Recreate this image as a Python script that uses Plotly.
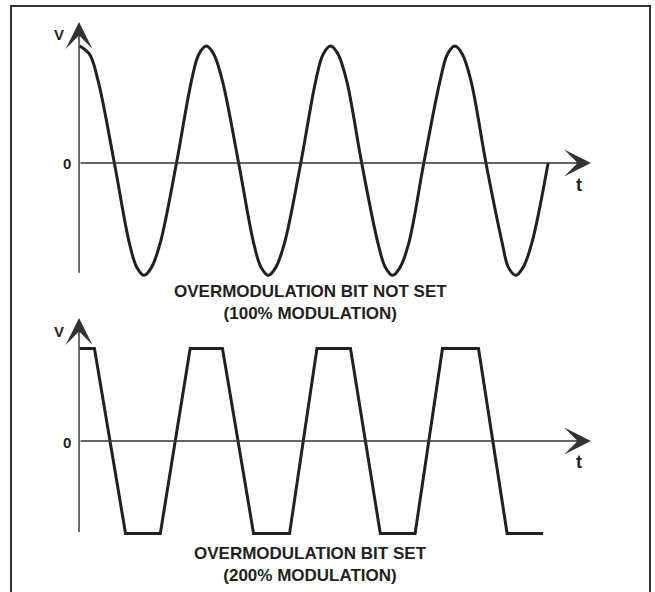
import plotly.graph_objects as go

# time in carrier periods, voltage normalised to the 100% peak
t_am = [-0.02, 0.06, 0.13, 0.26, 0.38, 0.44, 0.5, 0.56, 0.63, 0.76, 0.88, 0.94, 1.0,
        1.06, 1.13, 1.26, 1.38, 1.44, 1.5, 1.56, 1.63, 1.76, 1.88, 1.94, 2.0, 2.06,
        2.13, 2.25, 2.38, 2.44, 2.5, 2.56, 2.63, 2.75, 2.88, 2.94, 3.0, 3.06, 3.13,
        3.25, 3.38, 3.43, 3.49, 3.55, 3.62, 3.75]
v_am = [1.0, 0.93, 0.7, 0, -0.68, -0.89, -0.96, -0.89, -0.68, 0, 0.7, 0.93, 1.0,
        0.93, 0.7, 0, -0.68, -0.89, -0.96, -0.89, -0.68, 0, 0.7, 0.93, 1.0, 0.93,
        0.7, 0, -0.68, -0.89, -0.96, -0.89, -0.68, 0, 0.7, 0.93, 1.0, 0.93, 0.7,
        0, -0.68, -0.89, -0.96, -0.89, -0.68, 0]

t_om = [-0.02, 0.1, 0.35, 0.63, 0.87, 1.13, 1.38, 1.67, 1.89, 2.16, 2.4, 2.68,
        2.9, 3.19, 3.42, 3.71]
v_om = [0.79, 0.79, -0.79, -0.79, 0.79, 0.79, -0.79, -0.79, 0.79, 0.79, -0.79,
        -0.79, 0.79, 0.79, -0.79, -0.79]

captions = [["OVERMODULATION BIT NOT SET", "(100% MODULATION)"],
            ["OVERMODULATION BIT SET", "(200% MODULATION)"]]

ink = "#231f20"
axis_col = "#333333"
font = "Liberation Sans Narrow, Arial Narrow, Liberation Sans, Arial"

fig = go.Figure()
fig.add_trace(go.Scatter(x=t_am, y=v_am, mode="lines", xaxis="x", yaxis="y",
                         line=dict(color=ink, width=3, shape="spline", smoothing=1.0)))
fig.add_trace(go.Scatter(x=t_om, y=v_om, mode="lines", xaxis="x2", yaxis="y2",
                         line=dict(color=ink, width=3)))

hidden = dict(visible=False, fixedrange=True)
fig.update_layout(
    width=655, height=592,
    margin=dict(l=0, r=0, t=0, b=0),
    paper_bgcolor="white", plot_bgcolor="white",
    showlegend=False,
    xaxis=dict(range=[-0.66, 4.61], domain=[0, 1], anchor="y", **hidden),
    yaxis=dict(range=[-1.171, 1.393], domain=[0.4932, 1], anchor="x", **hidden),
    xaxis2=dict(range=[-0.66, 4.61], domain=[0, 1], anchor="y2", **hidden),
    yaxis2=dict(range=[-1.291, 1.205], domain=[0, 0.4932], anchor="x2", **hidden),
)

# outer frame
fig.add_shape(type="rect", xref="paper", yref="paper",
              x0=11 / 655, x1=650 / 655, y0=-0.05, y1=1 - 6 / 592,
              line=dict(color="#333333", width=2))

panels = [("x", "y", -0.95, 1.205), ("x2", "y2", -0.79, 1.051)]
x0, xtip = -0.024, 4.095
for xr, yr, vbot, vtip in panels:
    # V axis arrow
    fig.add_annotation(x=x0, y=vtip, ax=x0, ay=vbot, xref=xr, yref=yr, axref=xr, ayref=yr,
                       text="", showarrow=True, arrowhead=3, arrowsize=3.2,
                       arrowwidth=1.4, arrowcolor=axis_col, standoff=0)
    # t axis arrow
    fig.add_annotation(x=xtip, y=0, ax=x0, ay=0, xref=xr, yref=yr, axref=xr, ayref=yr,
                       text="", showarrow=True, arrowhead=3, arrowsize=3.2,
                       arrowwidth=1.4, arrowcolor=axis_col, standoff=0)

lab = dict(family=font, size=15, color=ink)
mid = dict(xref="paper", yref="paper", xanchor="center", yanchor="middle", showarrow=False)
# labels in paper coordinates (pixels measured from top-left)
for vy, zy, ty in [(34, 163, 185), (331, 442, 462)]:
    fig.add_annotation(x=59 / 655, y=1 - vy / 592, text="<b>V</b>", font=lab, **mid)
    fig.add_annotation(x=67 / 655, y=1 - zy / 592, text="<b>0</b>", font=lab, **mid)
    fig.add_annotation(x=579 / 655, y=1 - ty / 592, text="<b>t</b>",
                       font=dict(family=font, size=18, color=ink), **mid)

cap_font = dict(family=font, size=17, color=ink)
for (l1, l2), yc in zip(captions, [302, 564]):
    fig.add_annotation(x=310 / 655, y=1 - yc / 592,
                       text="<b>" + l1 + "</b><br><b>" + l2 + "</b>",
                       font=cap_font, **mid)

fig.write_html("out.html", config={"displayModeBar": False},
               post_script="document.body.style.margin='0';")
